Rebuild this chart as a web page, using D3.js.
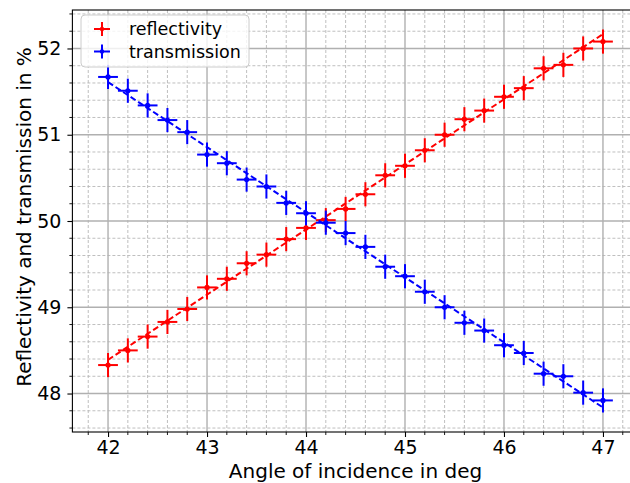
<!DOCTYPE html>
<html>
<head>
<meta charset="utf-8">
<script src="https://cdn.jsdelivr.net/npm/d3@7"></script>
<style>
  body { margin: 0; background: #fff; }
  svg { display: block; font-family: "DejaVu Sans", sans-serif; }
</style>
</head>
<body>
<svg></svg>
<script>
// measured data (angle in deg, values in %)
let angles = [42, 42.2, 42.4, 42.6, 42.8, 43, 43.2, 43.4, 43.6, 43.8, 44, 44.2, 44.4,
	44.6, 44.8, 45, 45.2, 45.4, 45.6, 45.8, 46, 46.2, 46.4, 46.6, 46.8, 47];
let reflectivity = [48.33, 48.50, 48.66, 48.83, 48.98, 49.23, 49.33, 49.51, 49.61, 49.79, 49.92, 50.01, 50.14,
	50.31, 50.53, 50.64, 50.82, 51.00, 51.18, 51.28, 51.44, 51.54, 51.77, 51.81, 52.00, 52.08];
let transmission = [51.67, 51.51, 51.34, 51.17, 51.03, 50.77, 50.67, 50.48, 50.40, 50.21, 50.09, 49.98, 49.86,
	49.70, 49.47, 49.36, 49.18, 49.00, 48.82, 48.73, 48.56, 48.47, 48.23, 48.20, 48.01, 47.92];
let xErr = 0.1;
let yErr = 0.14;
let xTicks = [42, 43, 44, 45, 46, 47];
let yTicks = [48, 49, 50, 51, 52];
let seriesNames = ["reflectivity", "transmission"];
let seriesColors = ["#ff0000", "#0000ff"];

let svgWidth = 630;
let svgHeight = 483;
let mLeft = 72.4, mRight = 638.6, mTop = 10, mBottom = 432;

let svg = d3.select('svg')
	.attr("width", svgWidth)
	.attr("height", svgHeight);

let xScale = d3.scaleLinear().domain([41.64, 47.36]).range([mLeft, mRight]);
let yScale = d3.scaleLinear().domain([47.554, 52.446]).range([mBottom, mTop]);

// grid
let xMinor = d3.range(41.8, 47.3, 0.2).map(d => +d.toFixed(1));
let yMinor = d3.range(47.6, 52.45, 0.2).map(d => +d.toFixed(1));

let grid = svg.append("g");
grid.selectAll(".xminor").data(xMinor.filter(d => !xTicks.includes(d))).enter().append("line")
	.attr("x1", d => xScale(d)).attr("x2", d => xScale(d))
	.attr("y1", mTop).attr("y2", mBottom)
	.attr("stroke", "#b8b8b8").attr("stroke-width", 0.9).attr("stroke-dasharray", "3,2");
grid.selectAll(".yminor").data(yMinor.filter(d => !yTicks.includes(d))).enter().append("line")
	.attr("y1", d => yScale(d)).attr("y2", d => yScale(d))
	.attr("x1", mLeft).attr("x2", mRight)
	.attr("stroke", "#b8b8b8").attr("stroke-width", 0.9).attr("stroke-dasharray", "3,2");
grid.selectAll(".xmajor").data(xTicks).enter().append("line")
	.attr("x1", d => xScale(d)).attr("x2", d => xScale(d))
	.attr("y1", mTop).attr("y2", mBottom)
	.attr("stroke", "#b0b0b0").attr("stroke-width", 1.4);
grid.selectAll(".ymajor").data(yTicks).enter().append("line")
	.attr("y1", d => yScale(d)).attr("y2", d => yScale(d))
	.attr("x1", mLeft).attr("x2", mRight)
	.attr("stroke", "#b0b0b0").attr("stroke-width", 1.4);

// least squares fit
function fit(xs, ys) {
	let mx = d3.mean(xs), my = d3.mean(ys);
	let sxy = d3.sum(xs, (x, i) => (x - mx) * (ys[i] - my));
	let sxx = d3.sum(xs, x => (x - mx) * (x - mx));
	let b = sxy / sxx;
	return x => my + b * (x - mx);
}

let line = d3.line().x(d => xScale(d[0])).y(d => yScale(d[1]));
let plot = svg.append("g");

[reflectivity, transmission].forEach(function (vals, k) {
	let col = seriesColors[k];
	let g = plot.append("g");
	let pts = angles.map((a, i) => [a, vals[i]]);
	g.selectAll(".h").data(pts).enter().append("line")
		.attr("x1", d => xScale(d[0] - xErr)).attr("x2", d => xScale(d[0] + xErr))
		.attr("y1", d => yScale(d[1])).attr("y2", d => yScale(d[1]))
		.attr("stroke", col).attr("stroke-width", 2);
	g.selectAll(".v").data(pts).enter().append("line")
		.attr("x1", d => xScale(d[0])).attr("x2", d => xScale(d[0]))
		.attr("y1", d => yScale(d[1] - yErr)).attr("y2", d => yScale(d[1] + yErr))
		.attr("stroke", col).attr("stroke-width", 2);
	g.selectAll("circle").data(pts).enter().append("circle")
		.attr("cx", d => xScale(d[0])).attr("cy", d => yScale(d[1]))
		.attr("r", 2.6).attr("fill", col);
	let f = fit(angles, vals);
	let ends = [angles[0], angles[angles.length - 1]];
	g.append("path")
		.attr("d", line(ends.map(x => [x, f(x)])))
		.attr("fill", "none").attr("stroke", col)
		.attr("stroke-width", 2).attr("stroke-dasharray", "6,3");
});

// axes
let xAxis = d3.axisBottom(xScale).tickValues(xTicks).tickFormat(d3.format("d")).tickSize(5).tickPadding(4);
let yAxis = d3.axisLeft(yScale).tickValues(yTicks).tickFormat(d3.format("d")).tickSize(5).tickPadding(6);

let gx = svg.append("g").attr("transform", "translate(0," + mBottom + ")").call(xAxis);
let gy = svg.append("g").attr("transform", "translate(" + mLeft + ",0)").call(yAxis);
[gx, gy].forEach(function (g) {
	g.select(".domain").remove();
	g.selectAll("text").attr("font-size", 19).attr("fill", "#000").attr("font-family", "DejaVu Sans");
	g.selectAll("line").attr("stroke", "#000").attr("stroke-width", 1.1);
});

// minor ticks
svg.append("g").selectAll("line").data(xMinor.filter(d => !xTicks.includes(d))).enter().append("line")
	.attr("x1", d => xScale(d)).attr("x2", d => xScale(d))
	.attr("y1", mBottom).attr("y2", mBottom + 3)
	.attr("stroke", "#000").attr("stroke-width", 0.9);
svg.append("g").selectAll("line").data(yMinor.filter(d => !yTicks.includes(d))).enter().append("line")
	.attr("y1", d => yScale(d)).attr("y2", d => yScale(d))
	.attr("x1", mLeft - 3).attr("x2", mLeft)
	.attr("stroke", "#000").attr("stroke-width", 0.9);

// frame
svg.append("rect")
	.attr("x", mLeft).attr("y", mTop)
	.attr("width", mRight - mLeft).attr("height", mBottom - mTop)
	.attr("fill", "none").attr("stroke", "#000").attr("stroke-width", 1.1);

// labels
svg.append("text")
	.attr("x", (mLeft + mRight) / 2).attr("y", 477.5)
	.attr("text-anchor", "middle").attr("font-size", 20)
	.text("Angle of incidence in deg");
svg.append("text")
	.attr("transform", "translate(31," + ((mTop + mBottom) / 2 - 4) + ") rotate(-90)")
	.attr("text-anchor", "middle").attr("font-size", 20)
	.text("Reflectivity and transmission in %");

// legend
let legend = svg.append("g");
legend.append("rect")
	.attr("x", 81).attr("y", 15).attr("width", 168).attr("height", 52).attr("rx", 4)
	.attr("fill", "#fff").attr("fill-opacity", 0.8).attr("stroke", "#cccccc");
seriesNames.forEach(function (name, i) {
	let cy = 29 + i * 22.5;
	let cx = 102;
	legend.append("line").attr("x1", cx - 8).attr("x2", cx + 8).attr("y1", cy).attr("y2", cy)
		.attr("stroke", seriesColors[i]).attr("stroke-width", 2);
	legend.append("line").attr("x1", cx).attr("x2", cx).attr("y1", cy - 7).attr("y2", cy + 7)
		.attr("stroke", seriesColors[i]).attr("stroke-width", 2);
	legend.append("circle").attr("cx", cx).attr("cy", cy).attr("r", 2.2).attr("fill", seriesColors[i]);
	legend.append("text").attr("x", 129).attr("y", cy + 6)
		.attr("font-size", 17.5).text(name);
});
</script>
</body>
</html>
